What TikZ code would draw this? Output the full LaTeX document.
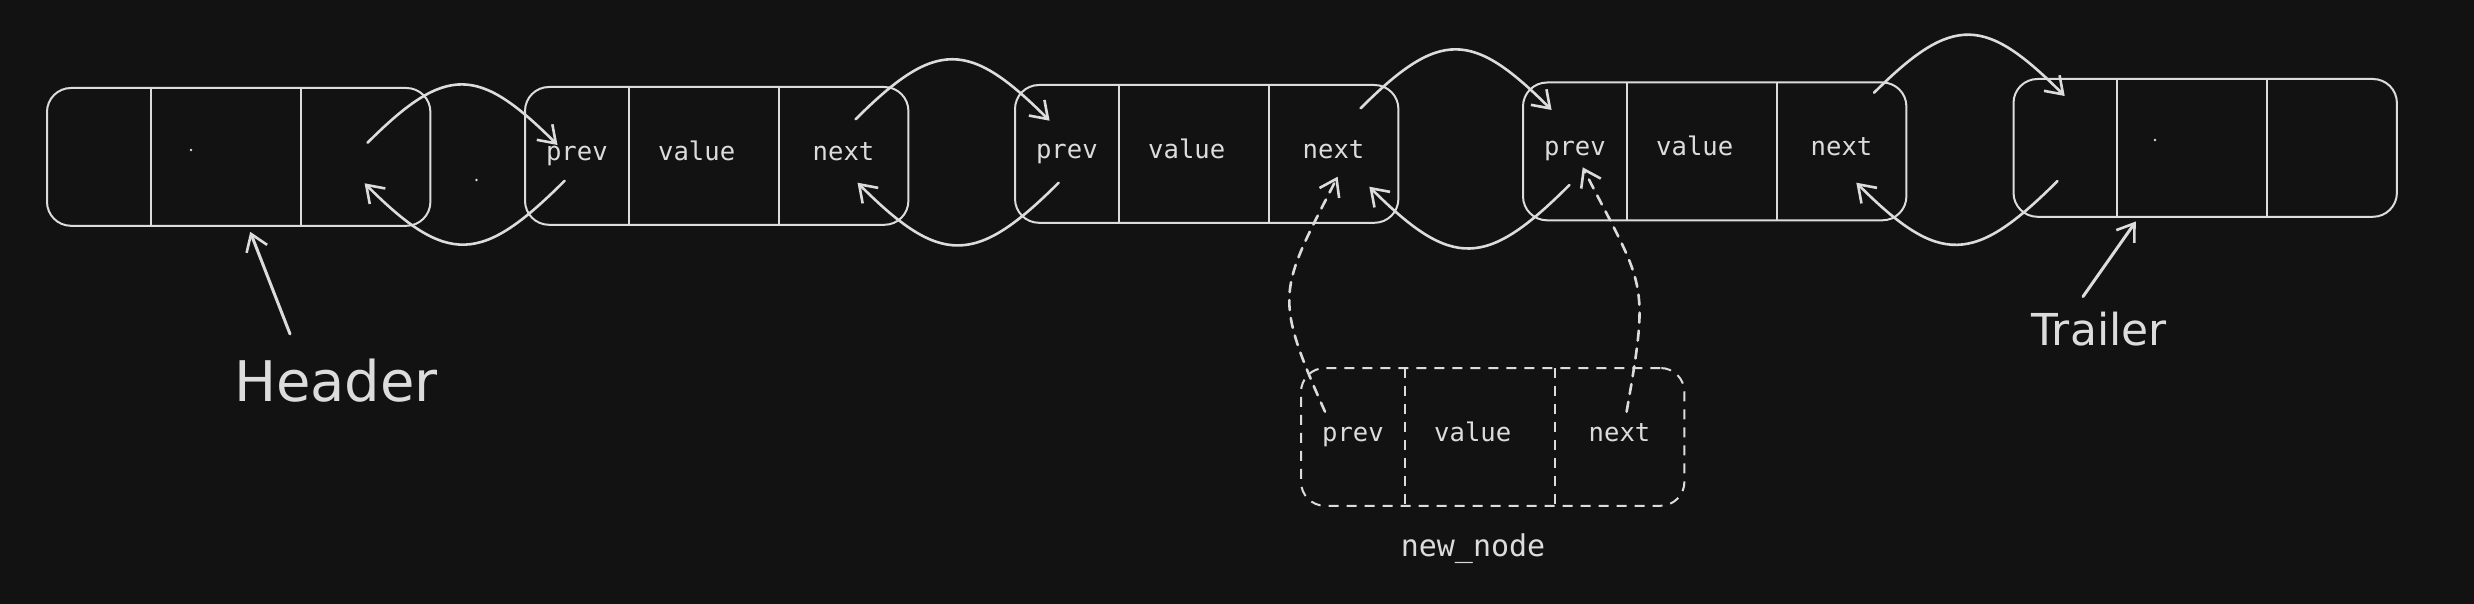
\documentclass[tikz,border=0pt]{standalone}
\usepackage{fontspec}
\setmainfont{DejaVu Sans}
\newfontfamily\codefont{DejaVu Sans Mono}
\usetikzlibrary{arrows.meta,calc,fit}
\definecolor{bg}{HTML}{121212}
\definecolor{fg}{HTML}{DCDCDC}
\tikzset{
  cellbox/.style={inner sep=0pt, minimum height=68.5pt, text=fg,
    text height=0.62em, text depth=0.2em,
    font=\codefont\fontsize{12.8}{15}\selectfont},
  prevcell/.style={cellbox, minimum width=51.5pt},
  valcell/.style={cellbox, minimum width=74.5pt},
  nextcell/.style={cellbox, minimum width=64.5pt},
  outerbox/.style={draw=fg, line width=1pt, rounded corners=12pt, inner sep=0pt},
  divider/.style={draw=fg, line width=1pt},
  link/.style={draw=fg, line width=1.3pt, line cap=round,
    -{Straight Barb[length=8pt,width=11pt,line width=1.3pt]}},
  dlink/.style={link, dash pattern=on 5pt off 4pt},
  dashbox/.style={dash pattern=on 5pt off 4pt},
  biglabel/.style={inner sep=0pt, text=fg},
  codelabel/.style={inner sep=0pt, text=fg, font=\codefont\fontsize{15}{18}\selectfont}
}
% optional style, name, left x, top y, three texts
\newcommand{\dllnode}[7][]{%
  \node[prevcell, anchor=north west] (#2p) at (#3,#4) {#5};
  \node[valcell, anchor=north west] (#2v) at (#2p.north east) {#6};
  \node[nextcell, anchor=north west] (#2n) at (#2v.north east) {#7};
  \node[outerbox, fit=(#2p)(#2v)(#2n), #1] (#2) {};
  \draw[divider, #1] (#2p.north east) -- (#2p.south east);
  \draw[divider, #1] (#2v.north east) -- (#2v.south east);
}
\newcommand{\valtext}{value\hspace*{7pt}}
\begin{document}
\begin{tikzpicture}[x=0.5pt, y=-0.5pt]
  \fill[bg] (0,0) rectangle (2474,604);
  \useasboundingbox (0,0) rectangle (2474,604);

  % list nodes
  \dllnode{b1}{47}{88}{}{}{}
  \dllnode{b2}{525}{87}{prev}{\valtext}{next}
  \dllnode{b3}{1015}{85}{prev}{\valtext}{next}
  \dllnode{b4}{1523}{82.5}{prev}{\valtext}{next}
  \dllnode{b5}{2013.5}{79}{}{}{}
  \dllnode[dashbox]{nw}{1301}{368}{prev}{\valtext}{next}

  % labels
  \node[biglabel, font=\fontsize{28}{32}\selectfont] (header) at (336,381) {Header};
  \node[biglabel, font=\fontsize{22}{26}\selectfont] (trailer) at (2099,329) {Trailer};
  \node[codelabel] (newlabel) at (1473,549) {new\_node};

  % stray specks
  \fill[fg] (191,150) circle (0.7pt);
  \fill[fg] (476.5,180) circle (0.7pt);
  \fill[fg] (2155,140) circle (0.7pt);

  % forward links (next -> prev)
  \draw[link] ($(b1n.north west)+(67,54.7)$) to[out=45,in=135,looseness=1.5] ($(b2p.north west)+(32.5,58)$);
  \draw[link] ($(b2n.north west)+(77,32.3)$) to[out=45,in=135,looseness=1.5] ($(b3p.north west)+(34.6,35.7)$);
  \draw[link] ($(b3n.north west)+(92,23.3)$) to[out=45,in=135,looseness=1.5] ($(b4p.north west)+(28.6,27.5)$);
  \draw[link] ($(b4n.north west)+(97.5,10.2)$) to[out=45,in=135,looseness=1.5] ($(b5p.north west)+(51.2,17)$);

  % backward links (prev -> next)
  \draw[link] ($(b2p.north west)+(39.7,93.7)$) to[out=-135,in=-45,looseness=1.5] ($(b1n.north west)+(64,95.3)$);
  \draw[link] ($(b3p.north west)+(43.7,97.7)$) to[out=-135,in=-45,looseness=1.5] ($(b2n.north west)+(78.9,95.7)$);
  \draw[link] ($(b4p.north west)+(46.4,102.5)$) to[out=-135,in=-45,looseness=1.5] ($(b3n.north west)+(100.7,101.7)$);
  \draw[link] ($(b5p.north west)+(44,102)$) to[out=-135,in=-45,looseness=1.5] ($(b4n.north west)+(79.7,100.2)$);

  % new node links
  \draw[dlink] ($(nwp.north west)+(24,43.7)$) to[out=114,in=-117,looseness=1.4] ($(b3n.north west)+(69,91.7)$);
  \draw[dlink] ($(nwn.north west)+(72,43.7)$) to[out=80,in=-63,looseness=1.4] ($(b4p.north west)+(59.7,84.8)$);

  % header / trailer pointers
  \draw[link, line width=1.5pt] ($(header.north)+(-46,-25)$) -- ($(b1.south)+(11.5,5)$);
  \draw[link, line width=1.5pt] ($(trailer.north)+(-16,-15)$) -- ($(b5v.south west)+(18.5,4.7)$);
\end{tikzpicture}
\end{document}
